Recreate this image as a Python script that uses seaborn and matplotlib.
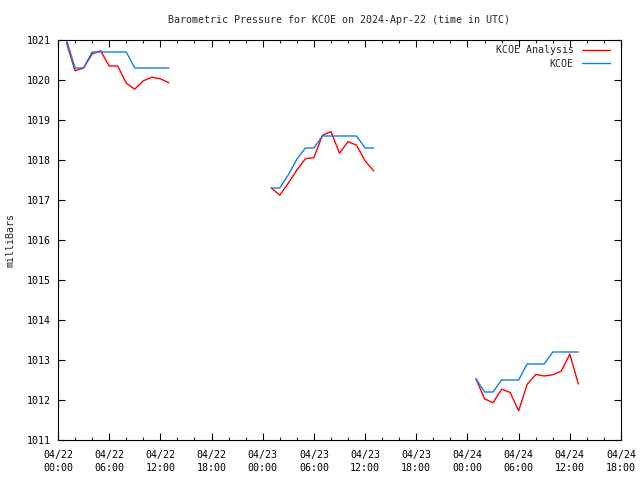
import numpy as np
import pandas as pd
import matplotlib
matplotlib.use("Agg")
import matplotlib.pyplot as plt
import seaborn as sns

# hours since 2024-04-22 00:00 UTC
hours_1 = [1, 2, 3, 4, 5, 6, 7, 8, 9, 10, 11, 12, 13]
kcoe_1 = [1021.0, 1020.3, 1020.3, 1020.7, 1020.7, 1020.7, 1020.7, 1020.7, 1020.3, 1020.3, 1020.3, 1020.3, 1020.3]
anal_1 = [1020.93, 1020.23, 1020.3, 1020.65, 1020.73, 1020.35, 1020.35, 1019.92, 1019.77, 1019.98, 1020.07, 1020.03, 1019.93]

hours_2 = [25, 26, 27, 28, 29, 30, 31, 32, 33, 34, 35, 36, 37]
kcoe_2 = [1017.3, 1017.3, 1017.63, 1018.02, 1018.3, 1018.3, 1018.6, 1018.6, 1018.6, 1018.6, 1018.6, 1018.3, 1018.3]
anal_2 = [1017.3, 1017.12, 1017.42, 1017.75, 1018.03, 1018.06, 1018.62, 1018.71, 1018.17, 1018.46, 1018.37, 1017.98, 1017.73]

hours_3 = [49, 50, 51, 52, 53, 54, 55, 56, 57, 58, 59, 60, 61]
kcoe_3 = [1012.53, 1012.2, 1012.2, 1012.5, 1012.5, 1012.5, 1012.9, 1012.9, 1012.9, 1013.2, 1013.2, 1013.2, 1013.2]
anal_3 = [1012.53, 1012.03, 1011.93, 1012.27, 1012.19, 1011.73, 1012.39, 1012.64, 1012.6, 1012.63, 1012.72, 1013.15, 1012.4]

tick_hours = [0, 6, 12, 18, 24, 30, 36, 42, 48, 54, 60, 66]
tick_labels = ["04/22\n00:00", "04/22\n06:00", "04/22\n12:00", "04/22\n18:00",
               "04/23\n00:00", "04/23\n06:00", "04/23\n12:00", "04/23\n18:00",
               "04/24\n00:00", "04/24\n06:00", "04/24\n12:00", "04/24\n18:00"]
y_ticks = list(range(1011, 1022))

rows = []
for seg, (h, k, a) in enumerate([(hours_1, kcoe_1, anal_1),
                                 (hours_2, kcoe_2, anal_2),
                                 (hours_3, kcoe_3, anal_3)]):
    for hh, kk, aa in zip(h, k, a):
        rows.append({"hour": hh, "mb": aa, "series": "KCOE Analysis", "seg": seg})
        rows.append({"hour": hh, "mb": kk, "series": "KCOE", "seg": seg})
df = pd.DataFrame(rows)

sns.set_style("white")
plt.rcParams["font.family"] = ["DejaVu Sans Mono"]
fs = 7.2

fig = plt.figure(figsize=(6.4, 4.8), dpi=100)
ax = fig.add_axes([58/640, 1-440/480, (621-58)/640, 400/480])

sns.lineplot(data=df, x="hour", y="mb", hue="series", units="seg", estimator=None,
             palette={"KCOE Analysis": "#ff0000", "KCOE": "#0a7ff0"},
             hue_order=["KCOE Analysis", "KCOE"], linewidth=1.0, ax=ax, legend=True)

ax.set_xlim(0, 66)
ax.set_ylim(1011, 1021)
ax.set_xticks(tick_hours)
ax.set_xticklabels(tick_labels, fontsize=fs, linespacing=1.35)
ax.set_xticks(range(0, 67, 2), minor=True)
ax.set_yticks(y_ticks)
ax.set_yticklabels([str(v) for v in y_ticks], fontsize=fs)
ax.tick_params(axis="x", which="major", pad=7.5)
ax.tick_params(axis="y", which="major", pad=5)
ax.tick_params(axis="both", which="major", direction="in", length=5, width=0.8,
               top=True, right=True, bottom=True, left=True, colors="black")
ax.tick_params(axis="x", which="minor", direction="in", length=2.5, width=0.8,
               top=True, bottom=True)
for s in ax.spines.values():
    s.set_visible(True)
    s.set_color("black")
    s.set_linewidth(0.8)
ax.set_xlabel("")
ax.set_ylabel("milliBars", fontsize=fs, labelpad=8)
ax.set_title("Barometric Pressure for KCOE on 2024-Apr-22 (time in UTC)", fontsize=fs, pad=12)
ax.grid(False)

leg = ax.legend(loc="upper right", bbox_to_anchor=(1 - 6/563, 1), frameon=False,
                markerfirst=False, fontsize=fs, handlelength=2.8, borderaxespad=0.15,
                labelspacing=0.35, handletextpad=0.8)

fig.savefig("out.png", dpi=100)
